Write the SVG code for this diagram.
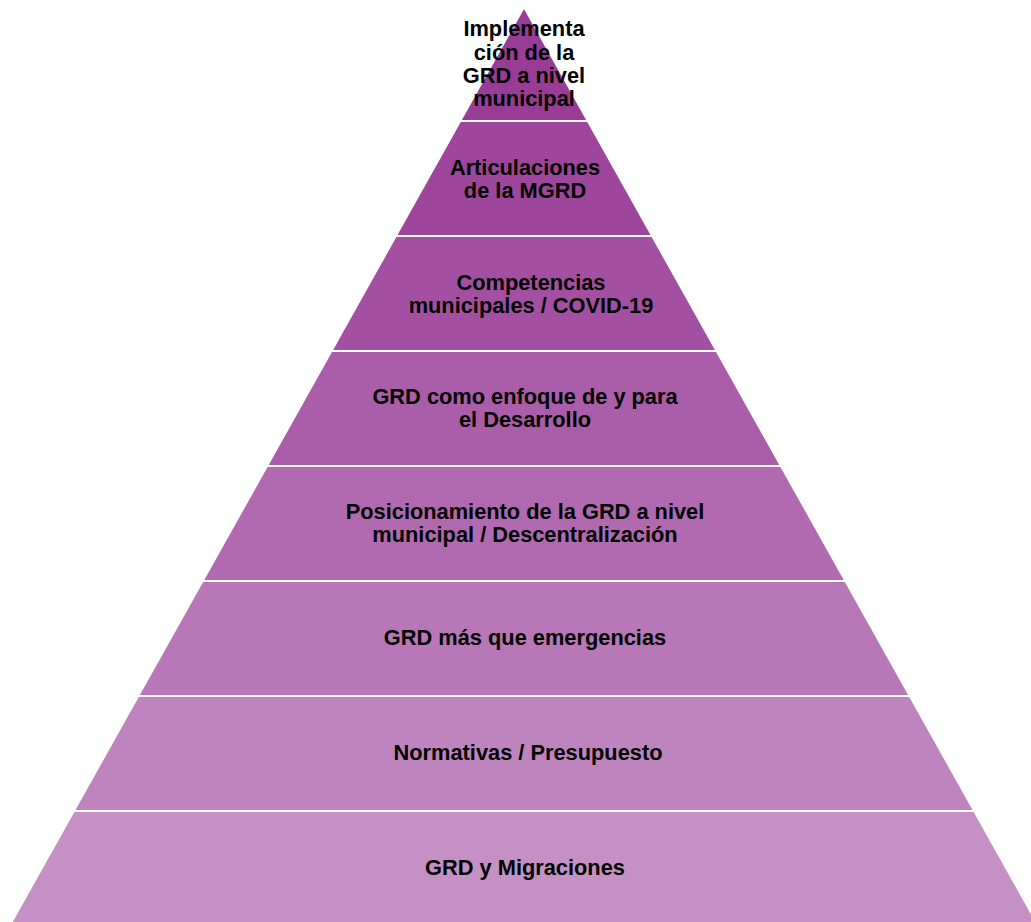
<svg xmlns="http://www.w3.org/2000/svg" width="1031" height="922" viewBox="0 0 1031 922">
<style>
.lay{stroke:#FFFFFF;stroke-width:2;stroke-linejoin:miter}
.t{font-family:"Liberation Sans",Arial,sans-serif;font-weight:bold;font-size:21.8px;fill:#000000;text-anchor:middle}
</style>
<rect width="1031" height="922" fill="#FFFFFF"/>
<g id="layer1">
<polygon class="lay" fill="#983C96" points="524,7 587.8,121 460.2,121"/>
<text class="t" x="524" y="36">Implementa</text>
<text class="t" x="524" y="60">ción de la</text>
<text class="t" x="524" y="83">GRD a nivel</text>
<text class="t" x="524" y="106">municipal</text>
</g>
<g id="layer2">
<polygon class="lay" fill="#9E469C" points="460.2,121 587.8,121 652.2,236 395.8,236"/>
<text class="t" x="525" y="175">Articulaciones</text>
<text class="t" x="525" y="198">de la MGRD</text>
</g>
<g id="layer3">
<polygon class="lay" fill="#A450A2" points="395.8,236 652.2,236 716.6,351 331.4,351"/>
<text class="t" x="531" y="290">Competencias</text>
<text class="t" x="531" y="313">municipales / COVID-19</text>
</g>
<g id="layer4">
<polygon class="lay" fill="#AA5DA9" points="331.4,351 716.6,351 781,466 267,466"/>
<text class="t" x="525" y="404">GRD como enfoque de y para</text>
<text class="t" x="525" y="427">el Desarrollo</text>
</g>
<g id="layer5">
<polygon class="lay" fill="#B16AB0" points="267,466 781,466 845.4,581 202.6,581"/>
<text class="t" x="525" y="519">Posicionamiento de la GRD a nivel</text>
<text class="t" x="525" y="542">municipal / Descentralización</text>
</g>
<g id="layer6">
<polygon class="lay" fill="#B877B6" points="202.6,581 845.4,581 909.8,696 138.2,696"/>
<text class="t" x="525" y="645">GRD más que emergencias</text>
</g>
<g id="layer7">
<polygon class="lay" fill="#BE84BD" points="138.2,696 909.8,696 974.2,811 73.8,811"/>
<text class="t" x="528" y="760">Normativas / Presupuesto</text>
</g>
<g id="layer8">
<polygon class="lay" fill="#C590C4" points="73.8,811 974.2,811 1038.6,926 9.4,926"/>
<text class="t" x="525" y="875">GRD y Migraciones</text>
</g>
<g id="connectors"></g>
</svg>
